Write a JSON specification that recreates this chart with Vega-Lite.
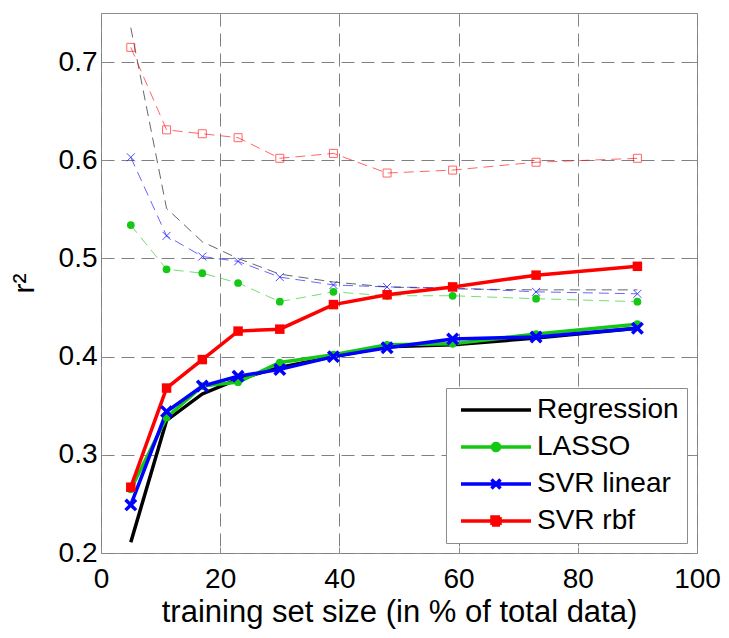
{
  "$schema": "https://vega.github.io/schema/vega-lite/v6.json",
  "width": 596,
  "height": 540,
  "autosize": {"type": "none"},
  "padding": {"left": 101, "top": 13, "right": 32, "bottom": 85},
  "background": "white",
  "config": {
    "font": "Liberation Sans",
    "view": {"stroke": "#8c8c8c", "strokeWidth": 1},
    "axis": {
      "labelFont": "Liberation Sans", "titleFont": "Liberation Sans",
      "labelColor": "#000000", "titleColor": "#000000",
      "domain": false, "tickColor": "#8c8c8c", "tickSize": -6,
      "gridColor": "#808080", "gridDash": [13, 7], "gridWidth": 1, "gridOpacity": 1,
      "labelFontSize": 28, "titleFontWeight": "normal", "titleFontSize": 31,
      "labelFlush": false
    }
  },
  "datasets": {
    "d": [
      {"series": "Regression", "set": "test", "x": 5, "y": 0.211},
      {"series": "Regression", "set": "test", "x": 11, "y": 0.335},
      {"series": "Regression", "set": "test", "x": 17, "y": 0.362},
      {"series": "Regression", "set": "test", "x": 23, "y": 0.377},
      {"series": "Regression", "set": "test", "x": 30, "y": 0.389},
      {"series": "Regression", "set": "test", "x": 39, "y": 0.400},
      {"series": "Regression", "set": "test", "x": 48, "y": 0.410},
      {"series": "Regression", "set": "test", "x": 59, "y": 0.412},
      {"series": "Regression", "set": "test", "x": 73, "y": 0.419},
      {"series": "Regression", "set": "test", "x": 90, "y": 0.429},
      {"series": "LASSO", "set": "test", "x": 5, "y": 0.265},
      {"series": "LASSO", "set": "test", "x": 11, "y": 0.338},
      {"series": "LASSO", "set": "test", "x": 17, "y": 0.370},
      {"series": "LASSO", "set": "test", "x": 23, "y": 0.374},
      {"series": "LASSO", "set": "test", "x": 30, "y": 0.394},
      {"series": "LASSO", "set": "test", "x": 39, "y": 0.402},
      {"series": "LASSO", "set": "test", "x": 48, "y": 0.412},
      {"series": "LASSO", "set": "test", "x": 59, "y": 0.413},
      {"series": "LASSO", "set": "test", "x": 73, "y": 0.423},
      {"series": "LASSO", "set": "test", "x": 90, "y": 0.433},
      {"series": "SVR linear", "set": "test", "x": 5, "y": 0.249},
      {"series": "SVR linear", "set": "test", "x": 11, "y": 0.344},
      {"series": "SVR linear", "set": "test", "x": 17, "y": 0.370},
      {"series": "SVR linear", "set": "test", "x": 23, "y": 0.380},
      {"series": "SVR linear", "set": "test", "x": 30, "y": 0.387},
      {"series": "SVR linear", "set": "test", "x": 39, "y": 0.400},
      {"series": "SVR linear", "set": "test", "x": 48, "y": 0.409},
      {"series": "SVR linear", "set": "test", "x": 59, "y": 0.418},
      {"series": "SVR linear", "set": "test", "x": 73, "y": 0.420},
      {"series": "SVR linear", "set": "test", "x": 90, "y": 0.429},
      {"series": "SVR rbf", "set": "test", "x": 5, "y": 0.267},
      {"series": "SVR rbf", "set": "test", "x": 11, "y": 0.368},
      {"series": "SVR rbf", "set": "test", "x": 17, "y": 0.397},
      {"series": "SVR rbf", "set": "test", "x": 23, "y": 0.426},
      {"series": "SVR rbf", "set": "test", "x": 30, "y": 0.428},
      {"series": "SVR rbf", "set": "test", "x": 39, "y": 0.453},
      {"series": "SVR rbf", "set": "test", "x": 48, "y": 0.463},
      {"series": "SVR rbf", "set": "test", "x": 59, "y": 0.471},
      {"series": "SVR rbf", "set": "test", "x": 73, "y": 0.483},
      {"series": "SVR rbf", "set": "test", "x": 90, "y": 0.492},
      {"series": "Regression", "set": "train", "x": 5, "y": 0.735},
      {"series": "Regression", "set": "train", "x": 11, "y": 0.551},
      {"series": "Regression", "set": "train", "x": 17, "y": 0.517},
      {"series": "Regression", "set": "train", "x": 23, "y": 0.500},
      {"series": "Regression", "set": "train", "x": 30, "y": 0.484},
      {"series": "Regression", "set": "train", "x": 39, "y": 0.476},
      {"series": "Regression", "set": "train", "x": 48, "y": 0.471},
      {"series": "Regression", "set": "train", "x": 59, "y": 0.469},
      {"series": "Regression", "set": "train", "x": 73, "y": 0.468},
      {"series": "Regression", "set": "train", "x": 90, "y": 0.468},
      {"series": "LASSO", "set": "train", "x": 5, "y": 0.534},
      {"series": "LASSO", "set": "train", "x": 11, "y": 0.489},
      {"series": "LASSO", "set": "train", "x": 17, "y": 0.485},
      {"series": "LASSO", "set": "train", "x": 23, "y": 0.475},
      {"series": "LASSO", "set": "train", "x": 30, "y": 0.456},
      {"series": "LASSO", "set": "train", "x": 39, "y": 0.466},
      {"series": "LASSO", "set": "train", "x": 48, "y": 0.462},
      {"series": "LASSO", "set": "train", "x": 59, "y": 0.462},
      {"series": "LASSO", "set": "train", "x": 73, "y": 0.459},
      {"series": "LASSO", "set": "train", "x": 90, "y": 0.456},
      {"series": "SVR linear", "set": "train", "x": 5, "y": 0.603},
      {"series": "SVR linear", "set": "train", "x": 11, "y": 0.523},
      {"series": "SVR linear", "set": "train", "x": 17, "y": 0.502},
      {"series": "SVR linear", "set": "train", "x": 23, "y": 0.497},
      {"series": "SVR linear", "set": "train", "x": 30, "y": 0.481},
      {"series": "SVR linear", "set": "train", "x": 39, "y": 0.473},
      {"series": "SVR linear", "set": "train", "x": 48, "y": 0.471},
      {"series": "SVR linear", "set": "train", "x": 59, "y": 0.470},
      {"series": "SVR linear", "set": "train", "x": 73, "y": 0.466},
      {"series": "SVR linear", "set": "train", "x": 90, "y": 0.464},
      {"series": "SVR rbf", "set": "train", "x": 5, "y": 0.715},
      {"series": "SVR rbf", "set": "train", "x": 11, "y": 0.631},
      {"series": "SVR rbf", "set": "train", "x": 17, "y": 0.627},
      {"series": "SVR rbf", "set": "train", "x": 23, "y": 0.623},
      {"series": "SVR rbf", "set": "train", "x": 30, "y": 0.602},
      {"series": "SVR rbf", "set": "train", "x": 39, "y": 0.607},
      {"series": "SVR rbf", "set": "train", "x": 48, "y": 0.587},
      {"series": "SVR rbf", "set": "train", "x": 59, "y": 0.590},
      {"series": "SVR rbf", "set": "train", "x": 73, "y": 0.598},
      {"series": "SVR rbf", "set": "train", "x": 90, "y": 0.602}
    ]
  },
  "data": {"name": "d"},
  "resolve": {"axis": {"x": "independent", "y": "independent"}},
  "layer": [
    {
      "transform": [{"filter": "datum.set === 'test'"}],
      "mark": {"type": "line", "strokeWidth": 0, "opacity": 0},
      "encoding": {
        "x": {"field": "x", "type": "quantitative", "scale": {"domain": [0, 100], "nice": false}, "axis": {"values": [0, 20, 40, 60, 80, 100], "title": "training set size (in % of total data)", "grid": true, "labelPadding": 18, "titlePadding": 4}},
        "y": {"field": "y", "type": "quantitative", "scale": {"domain": [0.2, 0.75], "nice": false, "zero": false}, "axis": {"values": [0.2, 0.3, 0.4, 0.5, 0.6, 0.7], "format": ".1f", "title": "r²", "titleFontSize": 30, "grid": true, "labelPadding": 10, "titlePadding": 19}},
        "color": {
          "field": "series", "type": "nominal",
          "scale": {"domain": ["Regression", "LASSO", "SVR linear", "SVR rbf"], "range": ["#000000", "#14c814", "#0000ff", "#ff0000"]},
          "legend": {
            "title": null, "orient": "bottom-right", "offset": 10,
            "fillColor": "white", "strokeColor": "#8c8c8c", "padding": 8,
            "labelFontSize": 28, "labelFont": "Liberation Sans", "labelColor": "#000000", "labelLimit": 300,
            "symbolSize": 100, "symbolStrokeWidth": 3, "symbolOffset": 28, "labelOffset": 27,
            "rowPadding": 9,
            "encode": {
              "symbols": {
                "update": {
                  "shape": {"signal": "datum.value === 'Regression' ? 'M-7,0H7' : datum.value === 'LASSO' ? 'M-7,0H7M0.7,0A0.7,0.7,0,1,1,-0.7,0A0.7,0.7,0,1,1,0.7,0' : datum.value === 'SVR linear' ? 'M-7,0H7M-0.9,-0.9L0.9,0.9M-0.9,0.9L0.9,-0.9' : 'M-7,0H7M-0.8,-0.8H0.8V0.8H-0.8Z'"},
                  "size": {"value": 100},
                  "fill": {"signal": "scale('color', datum.value)"},
                  "stroke": {"signal": "scale('color', datum.value)"},
                  "strokeWidth": {"value": 3.5},
                  "strokeDash": {"value": [1, 0]},
                  "opacity": {"value": 1},
                  "fillOpacity": {"value": 1},
                  "strokeOpacity": {"value": 1}
                }
              }
            }
          }
        },
        "detail": {"field": "series"}
      }
    },
    {
      "transform": [{"filter": "datum.set === 'train'"}],
      "mark": {"type": "line", "strokeDash": [10, 6], "strokeWidth": 1, "opacity": 0.6},
      "encoding": {
        "x": {"field": "x", "type": "quantitative", "axis": null},
        "y": {"field": "y", "type": "quantitative", "axis": null},
        "color": {"field": "series", "type": "nominal"},
        "detail": {"field": "series"}
      }
    },
    {
      "transform": [{"filter": "datum.set === 'train' && datum.series === 'LASSO'"}],
      "mark": {"type": "point", "shape": "circle", "filled": true, "size": 60, "opacity": 1},
      "encoding": {
        "x": {"field": "x", "type": "quantitative", "axis": null},
        "y": {"field": "y", "type": "quantitative", "axis": null},
        "color": {"field": "series", "type": "nominal"}
      }
    },
    {
      "transform": [{"filter": "datum.set === 'train' && datum.series === 'SVR linear'"}],
      "mark": {"type": "point", "shape": "M-1,-1L1,1M-1,1L1,-1", "filled": false, "size": 64, "strokeWidth": 1, "opacity": 0.7},
      "encoding": {
        "x": {"field": "x", "type": "quantitative", "axis": null},
        "y": {"field": "y", "type": "quantitative", "axis": null},
        "color": {"field": "series", "type": "nominal"}
      }
    },
    {
      "transform": [{"filter": "datum.set === 'train' && datum.series === 'SVR rbf'"}],
      "mark": {"type": "point", "shape": "square", "filled": false, "size": 64, "strokeWidth": 1, "opacity": 0.6},
      "encoding": {
        "x": {"field": "x", "type": "quantitative", "axis": null},
        "y": {"field": "y", "type": "quantitative", "axis": null},
        "color": {"field": "series", "type": "nominal"}
      }
    },
    {
      "transform": [{"filter": "datum.set === 'test'"}],
      "mark": {"type": "line", "strokeWidth": 3.5},
      "encoding": {
        "x": {"field": "x", "type": "quantitative", "axis": null},
        "y": {"field": "y", "type": "quantitative", "axis": null},
        "color": {"field": "series", "type": "nominal"},
        "detail": {"field": "series"}
      }
    },
    {
      "transform": [{"filter": "datum.set === 'test' && datum.series === 'LASSO'"}],
      "mark": {"type": "point", "shape": "circle", "filled": true, "size": 60, "opacity": 1},
      "encoding": {
        "x": {"field": "x", "type": "quantitative", "axis": null},
        "y": {"field": "y", "type": "quantitative", "axis": null},
        "color": {"field": "series", "type": "nominal"}
      }
    },
    {
      "transform": [{"filter": "datum.set === 'test' && datum.series === 'SVR linear'"}],
      "mark": {"type": "point", "shape": "M-1,-1L1,1M-1,1L1,-1", "filled": false, "size": 110, "strokeWidth": 3.5, "opacity": 1},
      "encoding": {
        "x": {"field": "x", "type": "quantitative", "axis": null},
        "y": {"field": "y", "type": "quantitative", "axis": null},
        "color": {"field": "series", "type": "nominal"}
      }
    },
    {
      "transform": [{"filter": "datum.set === 'test' && datum.series === 'SVR rbf'"}],
      "mark": {"type": "point", "shape": "square", "filled": true, "size": 90, "opacity": 1},
      "encoding": {
        "x": {"field": "x", "type": "quantitative", "axis": null},
        "y": {"field": "y", "type": "quantitative", "axis": null},
        "color": {"field": "series", "type": "nominal"}
      }
    },
    {
      "mark": {"type": "point", "opacity": 0},
      "encoding": {
        "x": {"field": "x", "type": "quantitative", "axis": {"orient": "top", "values": [0, 20, 40, 60, 80, 100], "labels": false, "grid": false, "title": null}},
        "y": {"field": "y", "type": "quantitative", "axis": {"orient": "right", "values": [0.2, 0.3, 0.4, 0.5, 0.6, 0.7], "labels": false, "grid": false, "title": null}}
      }
    }
  ]
}
